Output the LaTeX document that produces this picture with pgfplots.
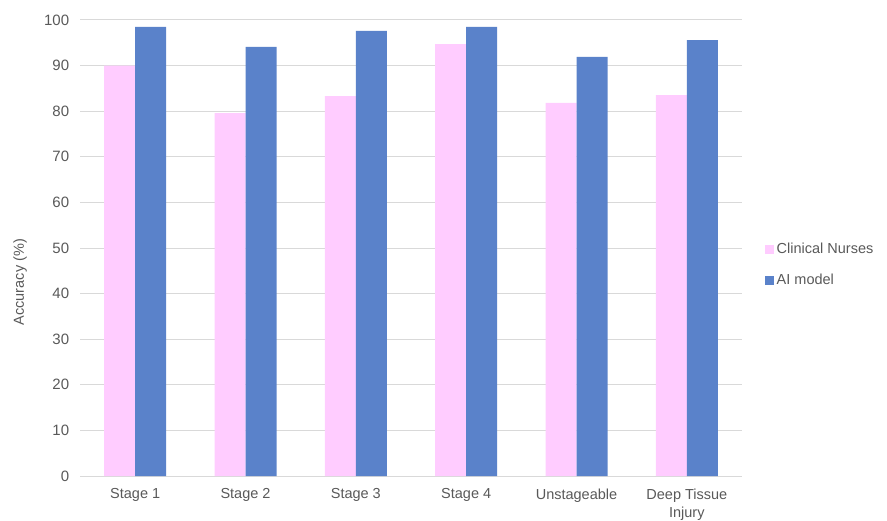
\documentclass[border=0pt]{standalone}
\usepackage{pgfplots}
\pgfplotsset{compat=1.18}
\usepackage{fontspec}
\setmainfont{Liberation Sans}
\definecolor{cnpink}{HTML}{FFCCFF}
\definecolor{aiblue}{HTML}{5A82CA}
\definecolor{gridgray}{HTML}{D9D9D9}
\definecolor{textgray}{HTML}{595959}
\begin{document}
\begin{tikzpicture}
\fontsize{14bp}{16bp}\selectfont
\path[use as bounding box] (-80bp,-45bp) rectangle (807bp,476bp);
\begin{axis}[
  at={(0,0)}, anchor=south west,
  scale only axis, width=662bp, height=456bp,
  ybar=0pt, bar width=31bp,
  xmin=-0.5, xmax=5.5, ymin=0, ymax=100,
  xtick={0,1,2,3,4,5},
  xticklabels={Stage 1, Stage 2, Stage 3, Stage 4, Unstageable, {Deep Tissue\\Injury}},
  xticklabel style={align=center, text=textgray, font=\fontsize{14.5bp}{18bp}\selectfont, yshift=-8bp},
  ytick={0,10,...,100},
  yticklabel style={text=textgray, font=\fontsize{15bp}{16bp}\selectfont, xshift=-6bp},
  /pgf/number format/assume math mode=true,
  major tick length=0pt,
  ymajorgrids, grid style={gridgray, line width=1pt},
  axis line style={draw=none},
  ylabel={Accuracy (\%)},
  every axis y label/.style={at={(axis description cs:-0.0906,0.425)}, rotate=90, anchor=center, text=textgray, font=\fontsize{14.5bp}{16bp}\selectfont},
  legend style={at={(axis description cs:1.034,0.463)}, anchor=west, draw=none, fill=none,
    font=\fontsize{14.5bp}{16bp}\selectfont, text=textgray, row sep=18bp, inner sep=0pt,
    nodes={inner xsep=3bp, inner ysep=0pt}},
  legend cell align=left,
  legend image code/.code={\fill[#1] (0bp,-4.5bp) rectangle (9bp,4.5bp);},
]
\addplot[fill=cnpink, draw=none] coordinates {(0,90.0) (1,79.6) (2,83.3) (3,94.7) (4,81.8) (5,83.5)};
\addplot[fill=aiblue, draw=none] coordinates {(0,98.5) (1,94.1) (2,97.6) (3,98.5) (4,91.9) (5,95.6)};
\legend{Clinical Nurses, AI model}
\end{axis}
\end{tikzpicture}
\end{document}
